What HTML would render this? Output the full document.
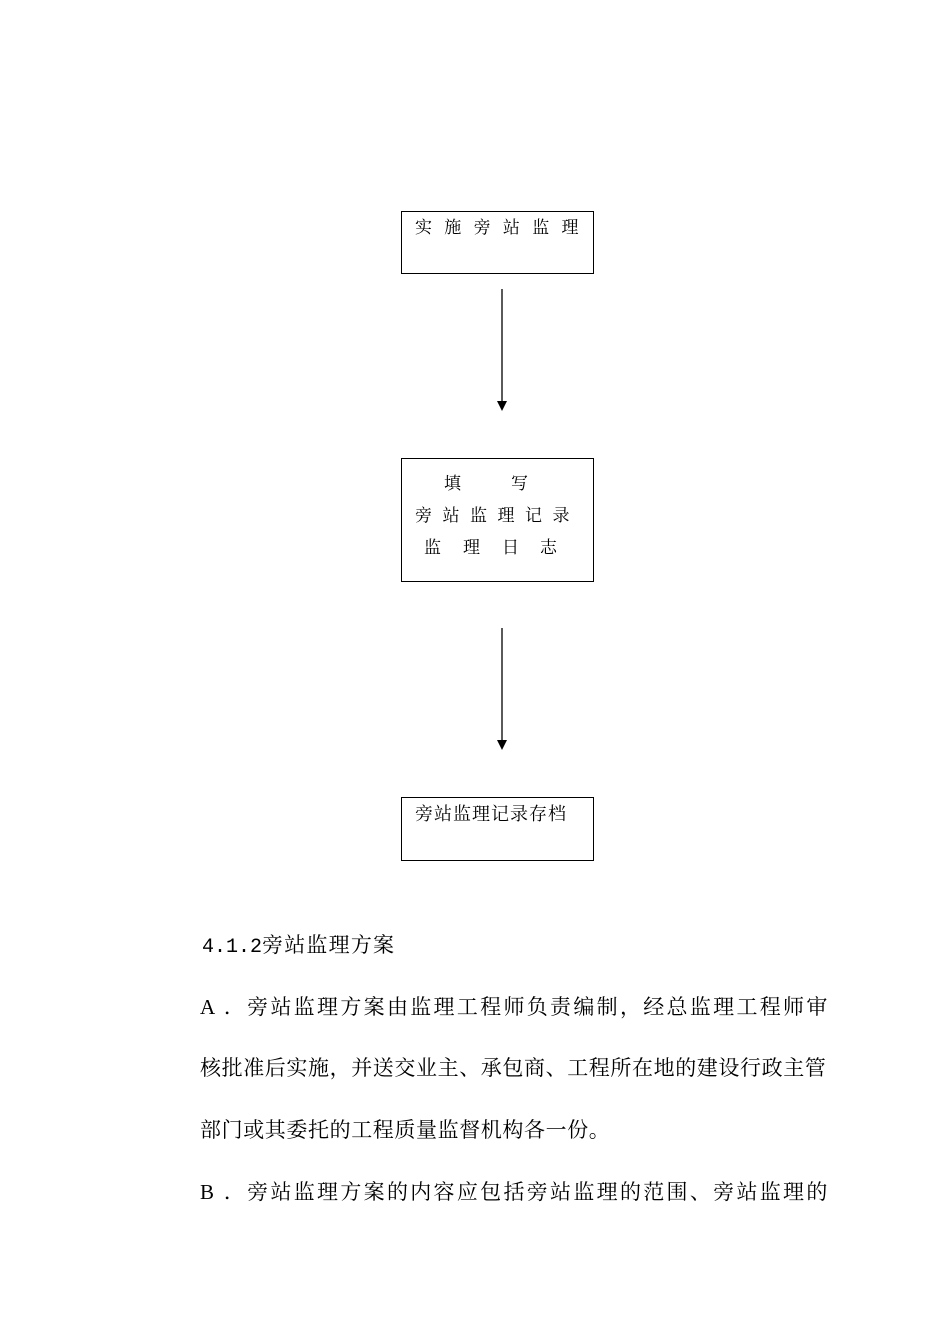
<!DOCTYPE html>
<html><head><meta charset="utf-8"><style>
body{margin:0;width:950px;height:1344px;background:#fff;position:relative;overflow:hidden;font-family:"Liberation Serif","Noto Serif CJK SC","Noto Sans CJK SC",serif;color:#000}
.box{position:absolute;border:1.5px solid #000;box-sizing:border-box}
.t{position:absolute;white-space:nowrap;line-height:1}
.s{font-size:17px}
.p{font-size:21px;letter-spacing:0.6px}
.m{font-family:"Liberation Mono",monospace}
</style></head><body>
<div class="box" style="left:401px;top:211px;width:193px;height:63px"></div>
<div class="t s" style="left:415px;top:219px;letter-spacing:12.3px">实施旁站监理</div>
<svg style="position:absolute;left:0;top:0" width="950" height="1344">
<line x1="502" y1="289" x2="502" y2="403" stroke="#000" stroke-width="1.3"/>
<polygon points="497,401 507,401 502,411" fill="#000"/>
<line x1="502" y1="628" x2="502" y2="742" stroke="#000" stroke-width="1.3"/>
<polygon points="497,740 507,740 502,750" fill="#000"/>
</svg>
<div class="box" style="left:401px;top:458px;width:193px;height:124px"></div>
<div class="t s" style="left:444px;top:475px">填</div>
<div class="t s" style="left:511px;top:475px">写</div>
<div class="t s" style="left:415px;top:507px;letter-spacing:10.5px">旁站监理记录</div>
<div class="t s" style="left:424px;top:539px">监</div>
<div class="t s" style="left:463px;top:539px">理</div>
<div class="t s" style="left:502px;top:539px">日</div>
<div class="t s" style="left:540px;top:539px">志</div>
<div class="box" style="left:401px;top:797px;width:193px;height:64px"></div>
<div class="t" style="left:415px;top:805px;font-size:18px;letter-spacing:1px">旁站监理记录存档</div>
<div class="t" style="left:202px;top:935px;font-size:21px"><span class="m" style="font-size:20px">4.1.2</span><span style="letter-spacing:1.2px">旁站监理方案</span></div>
<div class="t p" style="left:200px;top:997px;letter-spacing:2.3px">A ．旁站监理方案由监理工程师负责编制，经总监理工程师审</div>
<div class="t p" style="left:200px;top:1058px">核批准后实施，并送交业主、承包商、工程所在地的建设行政主管</div>
<div class="t p" style="left:200px;top:1120px">部门或其委托的工程质量监督机构各一份。</div>
<div class="t p" style="left:200px;top:1182px;letter-spacing:2.3px">B ．旁站监理方案的内容应包括旁站监理的范围、旁站监理的</div>
</body></html>
